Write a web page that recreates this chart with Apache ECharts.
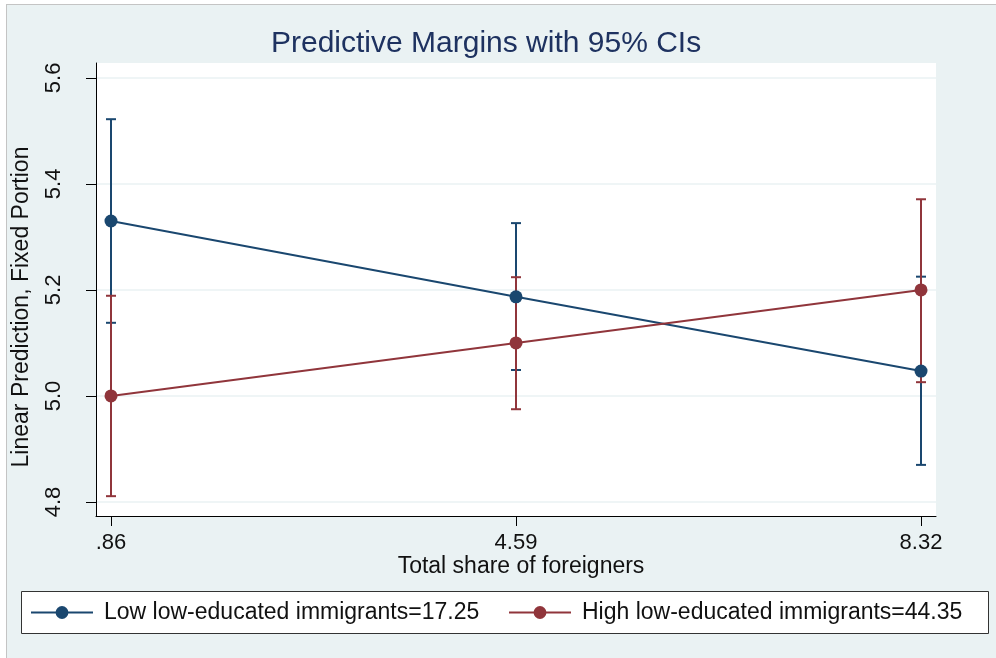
<!DOCTYPE html>
<html>
<head>
<meta charset="utf-8">
<script src="https://cdn.jsdelivr.net/npm/echarts@6/dist/echarts.min.js"></script>
<style>html,body{margin:0;padding:0;background:#fff;}#chart{width:996px;height:658px;}</style>
</head>
<body>
<div id="chart"></div>
<script>
// ---- data ----
const xValues = [0.86, 4.59, 8.32];
const xTickLabels = ['.86', '4.59', '8.32'];
const yTicks = [4.8, 5.0, 5.2, 5.4, 5.6];
const yTickLabels = ['4.8', '5.0', '5.2', '5.4', '5.6'];
const lowName = 'Low low-educated immigrants=17.25';
const highName = 'High low-educated immigrants=44.35';
const lowMargin = [5.330, 5.187, 5.047];
const lowLower = [5.138, 5.049, 4.870];
const lowUpper = [5.522, 5.326, 5.225];
const highMargin = [5.000, 5.100, 5.200];
const highLower = [4.811, 4.975, 5.026];
const highUpper = [5.189, 5.224, 5.371];

const BLUE = '#1a476f';
const RED = '#90353b';
const FONT = "'Liberation Sans', Arial, sans-serif";

function ciRenderer(color) {
  return function (params, api) {
    const x = api.value(0), lo = api.value(1), hi = api.value(2);
    const a = api.coord([x, lo]);
    const b = api.coord([x, hi]);
    const w = 5;
    const style = { stroke: color, lineWidth: 2, fill: null };
    return {
      type: 'group',
      children: [
        { type: 'line', shape: { x1: a[0], y1: a[1], x2: b[0], y2: b[1] }, style: style },
        { type: 'line', shape: { x1: a[0] - w, y1: a[1], x2: a[0] + w, y2: a[1] }, style: style },
        { type: 'line', shape: { x1: b[0] - w, y1: b[1], x2: b[0] + w, y2: b[1] }, style: style }
      ]
    };
  };
}

const lowCI = xValues.map((x, i) => [x, lowLower[i], lowUpper[i]]);
const highCI = xValues.map((x, i) => [x, highLower[i], highUpper[i]]);
const lowPts = xValues.map((x, i) => [x, lowMargin[i]]);
const highPts = xValues.map((x, i) => [x, highMargin[i]]);

const chart = echarts.init(document.getElementById('chart'));
const legendCommon = {
  orient: 'horizontal',
  itemWidth: 62,
  itemHeight: 16,
  padding: 0,
  top: 601,
  backgroundColor: 'transparent',
  borderWidth: 0,
  selectedMode: false,
  textStyle: { fontFamily: FONT, fontSize: 23, color: '#111', padding: [0, 0, 0, 6] }
};
chart.setOption({
  animation: false,
  backgroundColor: '#eaf2f3',
  title: {
    text: 'Predictive Margins with 95% CIs',
    left: 271,
    top: 29,
    padding: 0,
    textStyle: { fontFamily: FONT, fontSize: 30, fontWeight: 'normal', color: '#1e3260' }
  },
  legend: [
    Object.assign({}, legendCommon, { left: 30, data: [lowName] }),
    Object.assign({}, legendCommon, { left: 508, data: [highName] })
  ],
  grid: {
    left: 96, right: 60, top: 63, bottom: 142,
    show: true, backgroundColor: '#ffffff', borderWidth: 0
  },
  xAxis: {
    type: 'value',
    min: 0.722,
    max: 8.458,
    axisLine: { show: true, lineStyle: { color: '#000', width: 1 } },
    axisTick: { show: true, length: 10, lineStyle: { color: '#000' }, customValues: xValues },
    axisLabel: {
      customValues: xValues,
      margin: 16,
      fontFamily: FONT, fontSize: 22, color: '#111',
      formatter: function (v) {
        const i = xValues.findIndex(t => Math.abs(t - v) < 1e-6);
        return i >= 0 ? xTickLabels[i] : '';
      }
    },
    splitLine: { show: false }
  },
  yAxis: {
    type: 'value',
    min: 4.7736,
    max: 5.628,
    axisLine: { show: true, lineStyle: { color: '#000', width: 1 } },
    axisTick: { show: true, length: 10, lineStyle: { color: '#000' }, customValues: yTicks },
    axisLabel: {
      customValues: yTicks,
      rotate: 90,
      margin: 31,
      fontFamily: FONT, fontSize: 22, color: '#111',
      formatter: function (v) {
        const i = yTicks.findIndex(t => Math.abs(t - v) < 1e-6);
        return i >= 0 ? yTickLabels[i] : '';
      }
    },
    splitLine: { show: true, lineStyle: { color: '#eaf2f3', width: 1.5 } }
  },
  graphic: [
    { type: 'rect', z: 0, shape: { x: 0, y: 0, width: 996, height: 4 }, style: { fill: '#fff' } },
    { type: 'rect', z: 0, shape: { x: 0, y: 0, width: 6, height: 658 }, style: { fill: '#fff' } },
    { type: 'line', z: 0, shape: { x1: 6, y1: 4.5, x2: 996, y2: 4.5 }, style: { stroke: '#c4c4c4', lineWidth: 1 } },
    { type: 'line', z: 0, shape: { x1: 6.5, y1: 4, x2: 6.5, y2: 658 }, style: { stroke: '#c4c4c4', lineWidth: 1 } },
    { type: 'rect', z: 0, shape: { x: 21.5, y: 591.5, width: 967, height: 42 }, style: { fill: '#fff', stroke: '#333', lineWidth: 1 } },
    { type: 'text', z: 1, x: 22, y: 307, rotation: Math.PI / 2,
      style: { text: 'Linear Prediction, Fixed Portion', font: '23px ' + FONT, fill: '#111', align: 'center', verticalAlign: 'middle' } },
    { type: 'text', z: 1, x: 521, y: 567,
      style: { text: 'Total share of foreigners', font: '23px ' + FONT, fill: '#111', align: 'center', verticalAlign: 'middle' } }
  ],
  series: [
    { type: 'custom', name: 'ciLow', renderItem: ciRenderer(BLUE), data: lowCI, encode: { x: 0, y: [1, 2] }, silent: true },
    { type: 'custom', name: 'ciHigh', renderItem: ciRenderer(RED), data: highCI, encode: { x: 0, y: [1, 2] }, silent: true },
    { type: 'line', name: lowName, data: lowPts, symbol: 'circle', symbolSize: 13,
      lineStyle: { color: BLUE, width: 2 }, itemStyle: { color: BLUE }, emphasis: { disabled: true } },
    { type: 'line', name: highName, data: highPts, symbol: 'circle', symbolSize: 13,
      lineStyle: { color: RED, width: 2 }, itemStyle: { color: RED }, emphasis: { disabled: true } }
  ]
});
</script>
</body>
</html>
